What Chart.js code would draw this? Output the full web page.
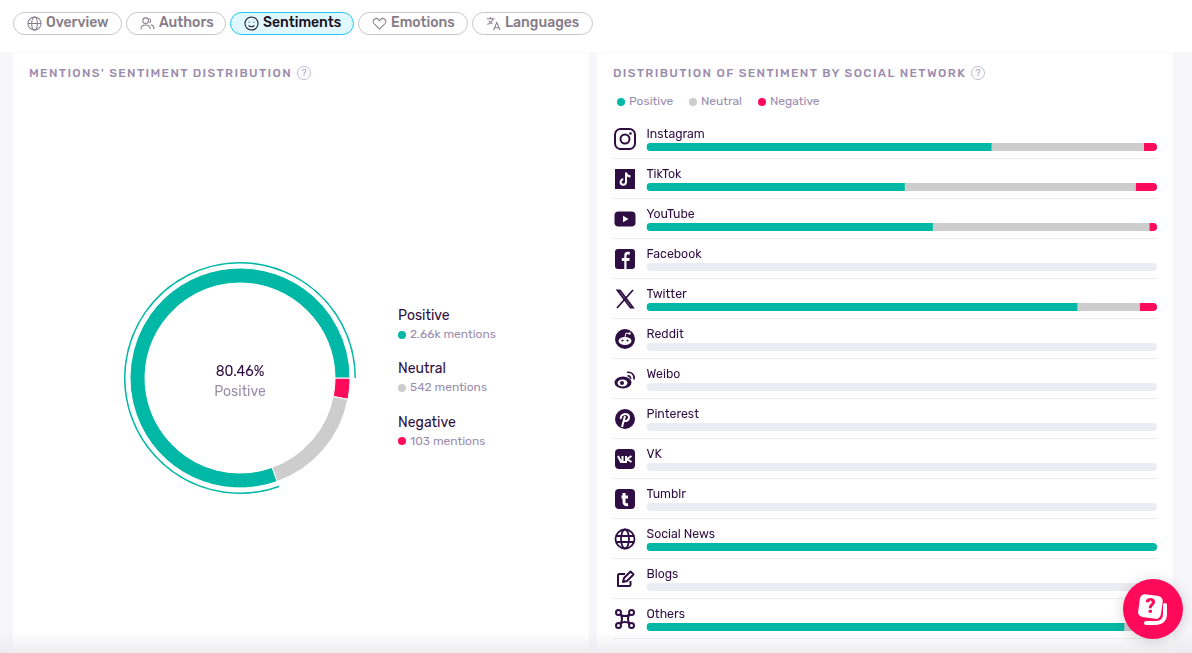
<!DOCTYPE html>
<html lang="en">
<head>
    <meta charset="UTF-8">
    <title>Sentiments</title>
    <script src="https://cdn.jsdelivr.net/npm/chart.js"></script>
    <style>
        html, body { margin: 0; width: 1192px; height: 653px; overflow: hidden; background: #f6f6fb; font-family: Rubik, Roboto, sans-serif; color: #2f0f43; }
        .abs { position: absolute; white-space: nowrap; }
        .topbar { left: 0; top: 0; width: 1192px; height: 52px; background: #fff; }
        .panel { top: 53px; height: 600px; background: #fff; }
        .pill { top: 12px; height: 21px; border: 1px solid #c8c6cb; border-radius: 12px; font-size: 14px; font-weight: 500; line-height: 20px; color: #857c88; box-sizing: content-box; }
        .pill svg { position: absolute; left: 13px; top: 3px; width: 15px; height: 15px; fill: none; stroke: currentColor; stroke-width: 1.1; }
        .pill span { position: absolute; left: 32px; top: 0; }
        .pill.on { background: #dff8ff; border-color: #1cc8ef; color: #1a1020; }
        .title { top: 66px; font-size: 12px; font-weight: 500; letter-spacing: 1.36px; color: #9b8cae; }
        .help { top: 66px; width: 12px; height: 12px; border: 1px solid #c3bbd0; border-radius: 50%; font-size: 9.5px; line-height: 12px; text-align: center; color: #a99cba; }
        .dot { width: 8px; height: 8px; border-radius: 50%; }
        .sub { font-size: 12px; color: #9b8cae; }
        .name { font-size: 14px; color: #2f0f43; }
        .icon { left: 613px; width: 24px; height: 24px; z-index: 2; color: #2f0f43; }
        .fade { left: 0; top: 632px; width: 1192px; height: 21px; background: linear-gradient(rgba(235,235,238,0), rgba(235,235,238,.9)); z-index: 3; }
        .helpbtn { left: 1123px; top: 579px; width: 60px; height: 60px; border-radius: 50%; background: #ff0a5a; box-shadow: 0 2px 14px rgba(0,0,0,.18); z-index: 4; }
    </style>
</head>
<body>
    <div class="abs topbar"></div>
    <div class="abs panel" style="left:13px;width:576px"></div>
    <div class="abs panel" style="left:597px;width:576px"></div>

    <div class="abs pill" style="left:13px;width:107px"><svg viewBox="0 0 16 16"><circle cx="8" cy="8" r="7"/><ellipse cx="8" cy="8" rx="3" ry="7"/><path d="M1 8h14"/></svg><span>Overview</span></div>
    <div class="abs pill" style="left:126px;width:98px"><svg viewBox="0 0 16 16"><circle cx="6" cy="5" r="3"/><path d="M1 14c0-6 10-6 10 0M10 2.500a3 3 0 0 1 0 5M12 9c2 1 3 2 3 5"/></svg><span>Authors</span></div>
    <div class="abs pill on" style="left:230px;width:122px"><svg viewBox="0 0 16 16"><circle cx="8" cy="8" r="7"/><path d="M5 10c1.500 2 4.500 2 6 0M5.500 6v1M10.500 6v1"/></svg><span>Sentiments</span></div>
    <div class="abs pill" style="left:358px;width:108px"><svg viewBox="0 0 16 16"><path d="M8 14L2 8c-3-4 3-8 6-3 3-5 9-1 6 3z"/></svg><span>Emotions</span></div>
    <div class="abs pill" style="left:472px;width:119px"><svg viewBox="0 0 16 16"><path d="M1 3h8M5 1v2M7.500 3c-1 3-3 5-6 6M3 5c1 2 3 3 4 3M8 15l3.500-8 3.500 8M9.300 12.500h4.400"/></svg><span>Languages</span></div>

    <div class="abs title" style="left:29px">MENTIONS' SENTIMENT DISTRIBUTION</div>
    <div class="abs help" style="left:297px">?</div>
    <div class="abs title" style="left:613px">DISTRIBUTION OF SENTIMENT BY SOCIAL NETWORK</div>
    <div class="abs help" style="left:971px">?</div>

    <canvas id="donutChart" class="abs" width="240" height="240" style="left:120px;top:258px"></canvas>
    <div class="abs" style="left:140px;width:200px;top:363px;text-align:center;font-size:14px">80.46%</div>
    <div class="abs" style="left:140px;width:200px;top:383px;text-align:center;font-size:14px;color:#9b8cae">Positive</div>

    <div class="abs name" style="left:398px;top:307px">Positive</div>
    <div class="abs dot" style="left:398px;top:331px;background:#00b8a5"></div>
    <div class="abs sub" style="left:410px;top:327px">2.66k mentions</div>
    <div class="abs name" style="left:398px;top:360px">Neutral</div>
    <div class="abs dot" style="left:398px;top:384px;background:#cdcdcd"></div>
    <div class="abs sub" style="left:410px;top:380px">542 mentions</div>
    <div class="abs name" style="left:398px;top:414px">Negative</div>
    <div class="abs dot" style="left:398px;top:437px;background:#ff0a5a"></div>
    <div class="abs sub" style="left:410px;top:434px">103 mentions</div>

    <div class="abs dot" style="left:617px;top:98px;background:#00b8a5"></div>
    <div class="abs sub" style="left:629px;top:94px">Positive</div>
    <div class="abs dot" style="left:689px;top:98px;background:#cdcdcd"></div>
    <div class="abs sub" style="left:701px;top:94px">Neutral</div>
    <div class="abs dot" style="left:758px;top:98px;background:#ff0a5a"></div>
    <div class="abs sub" style="left:770px;top:94px">Negative</div>

    <canvas id="networkChart" class="abs" width="550" height="529" style="left:610px;top:120px"></canvas>
    <div id="icons"></div>

    <div class="abs fade"></div>
    <div class="abs helpbtn">
        <svg width="60" height="60" viewBox="0 0 60 60">
            <rect x="16" y="16" width="23" height="23" rx="5" fill="#fff" transform="rotate(8 27 27)"/>
            <path d="M42 26v9c0 6-4 9-9 9H23" fill="none" stroke="#fff" stroke-width="4" stroke-linecap="round"/>
            <text x="27.500" y="34" font-size="20" font-weight="900" font-family="Roboto" text-anchor="middle" fill="#ff0a5a">?</text>
        </svg>
    </div>

    <script>
        const sentimentLabels = ['Positive', 'Neutral', 'Negative'];
        const sentimentMentions = [2660, 542, 103];
        const sentimentColors = ['#00b8a5', '#cdcdcd', '#ff0a5a'];

        const networks = ['Instagram', 'TikTok', 'YouTube', 'Facebook', 'Twitter', 'Reddit', 'Weibo', 'Pinterest', 'VK', 'Tumblr', 'Social News', 'Blogs', 'Others'];
        const positiveShare = [67.6, 50.6, 56.1, 0, 84.4, 0, 0, 0, 0, 0, 100, 0, 93.6];
        const neutralShare = [29.8, 45.2, 42.4, 0, 12.2, 0, 0, 0, 0, 0, 0, 0, 6.4];
        const negativeShare = [2.6, 4.2, 1.5, 0, 3.4, 0, 0, 0, 0, 0, 0, 0, 0];

        // Ring goes clockwise from 3 o'clock: negative, neutral, positive
        const ringValues = [...sentimentMentions].reverse();
        const ringColors = [...sentimentColors].reverse();

        new Chart(document.getElementById('donutChart').getContext('2d'), {
            type: 'doughnut',
            data: {
                labels: [...sentimentLabels].reverse(),
                datasets: [
                    // thin outline around the positive slice only
                    { data: ringValues, weight: 1.5, borderWidth: 0, backgroundColor: ['transparent', 'transparent', ringColors[2]] },
                    { data: ringValues, weight: 4.5, borderWidth: 0, backgroundColor: 'transparent' },
                    { data: ringValues, weight: 15, borderWidth: 1, borderColor: '#fff', backgroundColor: ringColors }
                ]
            },
            options: {
                responsive: false,
                animation: false,
                rotation: 90,
                cutout: 95,
                layout: { padding: 4 },
                plugins: { legend: { display: false }, tooltip: { enabled: false } }
            }
        });

        // Grey tracks, network names and row separators around the bars
        const rowDecor = {
            id: 'rowDecor',
            beforeDatasetsDraw(chart) {
                const { ctx, scales: { x, y } } = chart;
                const x0 = x.getPixelForValue(0);
                const x1 = x.getPixelForValue(100);
                ctx.save();
                networks.forEach((name, i) => {
                    const cy = y.getPixelForValue(i);
                    ctx.fillStyle = '#ecedf2';
                    ctx.beginPath();
                    ctx.roundRect(x0, cy - 4, x1 - x0, 8, 4);
                    ctx.fill();
                    ctx.fillStyle = '#ecebf2';
                    ctx.fillRect(3, cy + 11, x1 - 3, 1);
                    ctx.fillStyle = '#2f0f43';
                    ctx.font = '12.3px Rubik, Roboto';
                    ctx.textBaseline = 'middle';
                    ctx.fillText(name, x0, cy - 13);
                });
                ctx.restore();
            }
        };

        // Round only the outer ends of each stacked row
        function endRadius(ctx) {
            const row = ctx.dataIndex;
            const shares = [positiveShare[row], neutralShare[row], negativeShare[row]];
            const first = shares.findIndex(v => v > 0);
            const last = shares.length - 1 - [...shares].reverse().findIndex(v => v > 0);
            const left = ctx.datasetIndex === first ? 4 : 0;
            const right = ctx.datasetIndex === last ? 4 : 0;
            return { topLeft: left, bottomLeft: left, topRight: right, bottomRight: right };
        }

        const shareSeries = [positiveShare, neutralShare, negativeShare];

        new Chart(document.getElementById('networkChart').getContext('2d'), {
            type: 'bar',
            data: {
                labels: networks,
                datasets: shareSeries.map((values, i) => ({
                    label: sentimentLabels[i],
                    data: values,
                    backgroundColor: sentimentColors[i],
                    barThickness: 8,
                    borderSkipped: false,
                    borderRadius: endRadius,
                    inflateAmount: 0
                }))
            },
            options: {
                indexAxis: 'y',
                responsive: false,
                animation: false,
                layout: { padding: { left: 36.5, right: 3, top: 7, bottom: 2 } },
                scales: {
                    x: { display: false, stacked: true, min: 0, max: 100 },
                    y: { display: false, stacked: true }
                },
                plugins: { legend: { display: false }, tooltip: { enabled: false } }
            },
            plugins: [rowDecor]
        });

        // Network icons, one per row
        const iconMarkup = [
            '<rect x="2" y="2" width="20" height="20" rx="5.500" fill="none" stroke="currentColor" stroke-width="2"/><circle cx="12" cy="12" r="4.500" fill="none" stroke="currentColor" stroke-width="2"/><circle cx="17.500" cy="6.500" r="1.300" fill="currentColor"/>',
            '<rect x="2" y="2" width="20" height="20" fill="currentColor"/><path d="M13 5.500v9.500a2.700 2.700 0 1 1-2.700-2.700M13 5.500c.4 2.500 2 3.800 4.500 4" fill="none" stroke="#fff" stroke-width="2"/>',
            '<rect x="1.500" y="4.500" width="21" height="15" rx="4" fill="currentColor"/><path d="M10 8.700v6.600l5.500-3.300z" fill="#fff"/>',
            '<rect x="2" y="2" width="20" height="20" rx="3" fill="currentColor"/><path d="M13.500 22v-8h2.800l.4-3h-3.200V9.200c0-1 .4-1.600 1.600-1.600h1.700V5c-2.700-.4-5.500-.3-5.500 3.500V11H8.800v3h2.500v8z" fill="#fff"/>',
            '<path d="M4.500 3.500l13 17h2.500L7 3.500z" fill="none" stroke="currentColor" stroke-width="1.800"/><path d="M20 3L4 21" fill="none" stroke="currentColor" stroke-width="1.800"/>',
            '<circle cx="12" cy="12" r="10" fill="currentColor"/><ellipse cx="12" cy="14" rx="6.500" ry="4" fill="#fff"/><circle cx="9.500" cy="13.500" r="1.100" fill="currentColor"/><circle cx="14.500" cy="13.500" r="1.100" fill="currentColor"/><path d="M12 10l1-4 3 .7" fill="none" stroke="#fff" stroke-width="1"/><circle cx="16.500" cy="6.500" r="1.200" fill="#fff"/>',
            '<ellipse cx="10" cy="15.500" rx="8.500" ry="6" fill="currentColor"/><ellipse cx="9.500" cy="16" rx="5" ry="3.500" fill="#fff"/><circle cx="9" cy="16" r="2" fill="currentColor"/><path d="M14 5.500c4-1 8 2 7 7M14.500 9c2-.5 3.500 1 3 3" fill="none" stroke="currentColor" stroke-width="1.600"/>',
            '<circle cx="12" cy="12" r="10" fill="currentColor"/><path d="M9 20l3-11M8 12c-2-5 8-7 8-2 0 4-4 5-5 3" fill="none" stroke="#fff" stroke-width="2"/>',
            '<rect x="2" y="2" width="20" height="20" rx="4" fill="currentColor"/><path d="M5 9l3 6h1.500V9M18.500 9l-4.500 3 4.500 3M13 9v6h-3.500" fill="none" stroke="#fff" stroke-width="2"/>',
            '<rect x="2" y="2" width="20" height="20" rx="4" fill="currentColor"/><path d="M11 6v9c0 2 1.500 3 4 2.500M8.500 10H15" fill="none" stroke="#fff" stroke-width="3"/>',
            '<circle cx="12" cy="12" r="9.500" fill="none" stroke="currentColor" stroke-width="1.800"/><ellipse cx="12" cy="12" rx="4" ry="9.500" fill="none" stroke="currentColor" stroke-width="1.800"/><path d="M3 9h18M3 15h18" stroke="currentColor" stroke-width="1.800"/>',
            '<path d="M12 7H6.500A1.500 1.500 0 0 0 5 8.500V19h11c1 0 1.500-.5 1.500-1.500V14M10 15l1-4 6.500-6.500 3 3L14 14z" fill="none" stroke="currentColor" stroke-width="2" stroke-linejoin="round"/>',
            '<path d="M7.500 7.500c3 2 6 2 9 0c-2 3-2 6 0 9c-3-2-6-2-9 0c2-3 2-6 0-9z" fill="none" stroke="currentColor" stroke-width="2"/><circle cx="5.500" cy="5.500" r="2.500" fill="none" stroke="currentColor" stroke-width="2"/><circle cx="18.500" cy="5.500" r="2.500" fill="none" stroke="currentColor" stroke-width="2"/><circle cx="5.500" cy="18.500" r="2.500" fill="none" stroke="currentColor" stroke-width="2"/><circle cx="18.500" cy="18.500" r="2.500" fill="none" stroke="currentColor" stroke-width="2"/>'
        ];

        document.getElementById('icons').innerHTML = iconMarkup.map((svg, i) =>
            `<svg class="abs icon" viewBox="0 0 24 24" style="top:${127 + 40 * i}px">${svg}</svg>`).join('');
    </script>
</body>
</html>
